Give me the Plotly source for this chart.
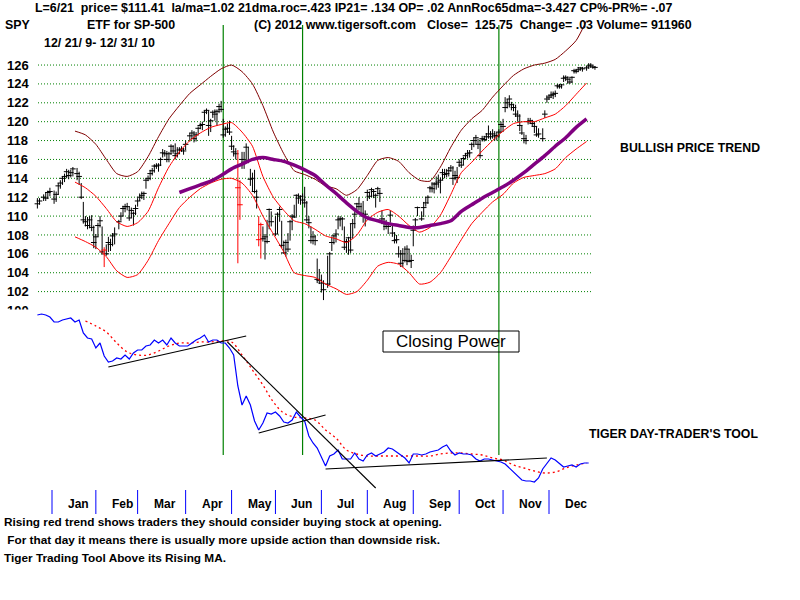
import numpy as np
import pandas as pd
import plotly.graph_objects as go

W, H = 800, 600
FONT = "Liberation Sans, Arial, sans-serif"
GREEN = "#008000"
MAROON = "#800000"
RED = "#ff0000"
PURPLE = "#800080"
BLUE = "#0000ff"
ORIGIN = np.datetime64("2009-12-21")   # x = weekday count from first chart day

# ---- daily SPY bars, 12/23/09 .. 12/31/10 (one line per month) ----
HOLIDAYS = ["2009-12-25", "2010-01-01", "2010-01-18", "2010-02-15", "2010-04-02",
            "2010-05-31", "2010-07-05", "2010-09-06", "2010-11-25", "2010-12-24"]
CLOSE = [
    111.3, 111.6, 112.0, 111.9, 112.5, 112.6,
    111.8, 112.3, 113.2, 113.5, 114.0, 114.2, 114.7, 114.3, 114.6, 115.0, 114.5, 114.2, 112.0, 109.6, 109.4, 109.0, 109.6, 108.8, 107.2,
    107.8, 109.0, 109.5, 106.2, 106.4, 106.0, 107.2, 107.0, 107.9, 108.1, 109.4, 110.0, 110.8, 111.0, 111.0, 109.8, 110.6, 110.3, 110.8,
    111.6, 112.0, 112.2, 112.4, 113.8, 114.0, 114.5, 114.8, 115.3, 115.3, 115.4, 116.0, 116.7, 116.6, 116.0, 116.6, 117.4, 116.9, 116.4, 116.6, 117.0, 117.1, 116.9,
    117.6, 118.5, 118.8, 118.2, 118.6, 119.3, 119.6, 119.7, 121.0, 121.2, 119.6, 120.1, 121.0, 120.8, 121.1, 121.6, 121.3, 118.6, 119.2, 119.3, 118.9,
    117.4, 116.8, 116.6, 113.0, 111.2, 116.0, 115.7, 117.3, 115.9, 113.9, 114.0, 112.6, 112.0, 107.5, 109.1, 107.6, 107.8, 107.3, 110.7, 109.4,
    108.1, 110.2, 110.7, 106.9, 106.1, 107.2, 106.5, 109.4, 110.0, 109.9, 112.2, 111.9, 112.1, 111.7, 111.4, 109.6, 109.3, 107.4, 107.8, 107.4, 103.3, 103.2,
    102.9, 102.2, 102.8, 106.0, 107.2, 107.9, 108.1, 109.6, 109.7, 109.7, 106.7, 107.3, 107.7, 106.4, 109.2, 110.2, 111.3, 111.0, 110.3, 110.0, 110.2,
    112.5, 112.1, 112.8, 112.6, 112.2, 112.9, 112.4, 109.7, 109.2, 108.9, 108.9, 110.1, 108.2, 107.4, 107.5, 106.0, 105.0, 106.0, 105.3, 106.5, 105.2, 105.3,
    108.5, 109.6, 110.9, 109.7, 110.9, 111.4, 112.0, 113.0, 112.9, 113.4, 113.4, 113.6, 113.8, 114.6, 114.4, 114.5, 114.8, 115.1, 114.0, 114.3, 114.1,
    115.7, 115.4, 116.1, 116.4, 116.6, 116.7, 117.6, 118.0, 118.3, 117.6, 116.4, 118.2, 118.1, 118.4, 118.7, 118.4, 118.7, 118.5, 118.5, 118.9, 119.7,
    119.5, 121.5, 122.0, 122.4, 121.8, 121.5, 120.8, 120.6, 119.6, 118.8, 118.2, 118.0, 120.0, 120.1, 119.8, 119.5, 118.6, 118.7, 118.2, 120.8, 122.4,
    122.6, 122.8, 122.9, 123.0, 123.8, 123.7, 123.9, 124.6, 124.7, 124.5, 124.2, 124.7, 125.4, 125.3, 125.5, 125.7, 125.6, 125.7, 125.9, 126.0, 125.8, 125.75,
]
HIGH = [
    111.9, 111.9, 112.3, 112.5, 112.7, 113.0,
    112.7, 112.6, 113.5, 113.8, 114.2, 114.5, 115.0, 114.9, 114.9, 115.2, 115.1, 114.7, 113.5, 111.5, 110.0, 109.9, 110.0, 110.1, 109.0,
    108.1, 109.3, 110.0, 108.9, 106.7, 107.0, 107.8, 107.6, 108.2, 108.8, 109.6, 110.4, 111.1, 111.3, 111.4, 111.0, 110.9, 110.5, 111.2,
    111.9, 112.4, 112.6, 112.6, 114.0, 114.3, 114.9, 115.1, 115.5, 115.6, 115.6, 116.2, 117.1, 117.0, 116.9, 116.8, 117.6, 117.5, 117.7, 117.3, 117.3, 117.4, 117.2,
    118.0, 118.8, 119.1, 119.0, 118.9, 119.5, 119.9, 120.0, 121.2, 121.4, 121.2, 120.3, 121.2, 121.3, 121.3, 121.9, 122.2, 120.3, 119.5, 119.8, 120.1,
    118.5, 117.5, 117.2, 117.0, 113.8, 116.8, 116.8, 117.7, 117.3, 115.0, 114.6, 114.9, 112.8, 110.0, 109.3, 108.9, 108.1, 109.6, 110.8, 110.5,
    110.0, 110.4, 111.0, 109.5, 107.4, 107.5, 108.2, 109.6, 110.2, 111.2, 112.3, 112.4, 112.2, 112.4, 113.1, 111.6, 110.0, 108.9, 108.4, 108.0, 105.5, 104.4,
    103.8, 103.2, 105.8, 106.2, 107.8, 108.0, 108.6, 110.0, 110.0, 109.9, 108.9, 107.6, 107.8, 109.2, 109.7, 110.5, 111.4, 112.0, 111.4, 111.6, 110.6,
    112.8, 112.6, 113.0, 112.8, 112.4, 113.1, 112.8, 110.6, 109.8, 109.6, 109.3, 110.6, 109.0, 108.3, 108.0, 106.8, 106.4, 106.6, 106.8, 106.9, 106.5, 105.9,
    109.0, 109.8, 111.0, 110.5, 111.5, 112.0, 112.2, 113.2, 113.6, 113.6, 114.2, 114.4, 114.1, 115.0, 115.0, 115.0, 115.2, 115.4, 115.3, 114.8, 115.2,
    116.0, 116.1, 116.3, 116.7, 117.0, 117.0, 117.8, 118.3, 118.6, 118.2, 118.1, 118.5, 118.5, 118.8, 119.6, 119.0, 119.2, 119.0, 118.9, 119.2, 120.0,
    120.3, 122.6, 122.4, 122.8, 122.1, 121.9, 121.8, 121.2, 120.8, 119.6, 118.7, 118.6, 120.4, 120.4, 120.2, 120.0, 119.5, 119.3, 119.3, 121.2, 122.8,
    122.9, 123.2, 123.2, 123.3, 124.0, 124.0, 124.0, 124.9, 124.9, 124.8, 124.6, 124.8, 125.6, 125.6, 125.8, 125.8, 125.8, 125.9, 126.2, 126.2, 126.0, 125.9,
]
LOW = [
    110.8, 111.2, 111.6, 111.6, 111.8, 112.1,
    111.3, 111.5, 112.3, 112.9, 113.3, 113.6, 114.0, 113.9, 114.1, 114.2, 113.8, 113.3, 111.8, 109.2, 108.9, 108.6, 108.7, 108.4, 106.6,
    106.5, 107.8, 108.8, 105.9, 104.6, 105.8, 106.2, 106.3, 106.8, 107.0, 108.6, 109.5, 110.0, 110.4, 110.6, 109.5, 109.8, 109.0, 110.1,
    111.0, 111.6, 111.8, 111.7, 112.9, 113.7, 113.8, 114.3, 114.6, 115.0, 114.7, 115.3, 116.2, 116.3, 115.7, 115.7, 116.5, 116.6, 116.0, 116.2, 116.6, 116.8, 116.5,
    117.0, 117.9, 118.2, 117.8, 117.9, 118.7, 119.2, 119.1, 120.0, 120.8, 118.5, 118.9, 120.4, 120.1, 119.6, 120.9, 121.0, 118.3, 118.4, 118.8, 118.6,
    117.0, 116.3, 116.0, 105.0, 109.6, 115.0, 115.0, 115.6, 115.6, 113.2, 112.6, 112.4, 110.8, 106.8, 105.5, 107.3, 105.4, 107.1, 108.6, 108.9,
    107.9, 108.1, 109.4, 106.6, 106.0, 105.7, 106.2, 107.4, 108.5, 109.8, 110.0, 111.3, 111.2, 111.3, 110.9, 109.4, 108.7, 107.1, 107.0, 106.9, 102.9, 102.8,
    101.9, 101.1, 102.4, 102.7, 106.3, 107.0, 107.2, 108.6, 108.9, 108.5, 106.4, 106.1, 105.9, 106.1, 107.6, 108.7, 110.3, 110.6, 110.0, 109.3, 108.9,
    111.6, 111.8, 112.0, 111.9, 110.9, 112.3, 111.5, 109.3, 108.5, 108.6, 108.1, 109.3, 107.8, 107.1, 107.1, 105.6, 104.6, 104.6, 105.1, 104.8, 105.1, 104.5,
    106.8, 108.6, 110.0, 109.5, 109.9, 111.0, 111.3, 112.5, 112.5, 112.4, 112.8, 113.0, 112.4, 113.8, 114.0, 114.1, 114.2, 114.7, 113.3, 113.8, 113.5,
    115.2, 115.1, 115.4, 116.0, 116.1, 116.2, 117.0, 117.3, 117.6, 117.1, 116.1, 117.9, 117.9, 118.0, 118.2, 118.1, 118.2, 118.0, 118.0, 118.3, 118.8,
    118.9, 121.0, 121.4, 121.5, 121.2, 121.1, 120.5, 120.0, 119.0, 118.6, 117.7, 117.6, 119.7, 119.8, 119.5, 118.8, 118.4, 118.3, 117.9, 120.4, 122.0,
    122.3, 122.5, 122.4, 122.6, 123.5, 123.5, 123.5, 124.2, 124.3, 124.0, 124.0, 124.1, 125.1, 125.1, 125.3, 125.4, 125.3, 125.4, 125.6, 125.7, 125.6, 125.5,
]
RED_DAYS = ["2010-02-05", "2010-05-06", "2010-05-07", "2010-05-20", "2010-05-21"]

# ---- weekly band readings (Mondays 1/18/10 .. 12/27/10) ----
BAND_UPPER = [119.0, 118.6, 117.6, 116.0, 114.5, 114.2, 114.7, 116.3, 118.4, 120.3,
              121.7, 123.0, 123.9, 124.8, 125.6, 126.0, 125.3, 124.0, 121.7, 118.9,
              116.6, 114.8, 114.4, 113.9, 113.2, 112.9, 112.2, 112.8, 114.3, 115.9,
              116.2, 115.8, 114.6, 113.8, 113.7, 115.2, 117.3, 119.1, 120.3, 121.2,
              122.6, 123.8, 124.9, 125.6, 126.0, 126.2, 126.6, 127.5, 128.6, 130.7]
BAND_MID = [113.6, 113.0, 112.1, 110.8, 109.4, 108.9, 109.3, 110.5, 113.0, 115.2,
            116.8, 118.0, 118.8, 119.4, 119.7, 119.9, 118.9, 117.4, 114.2, 112.0,
            110.6, 109.5, 109.2, 108.6, 107.9, 107.6, 107.2, 108.0, 109.6, 110.4,
            110.7, 110.0, 109.0, 108.3, 108.8, 110.1, 112.3, 114.6, 115.7, 116.9,
            118.0, 119.0, 119.8, 120.0, 120.0, 120.4, 120.8, 121.7, 122.9, 124.1]
BAND_LOWER = [107.8, 107.3, 106.7, 105.7, 104.2, 103.5, 103.8, 105.3, 107.4, 109.2,
              110.9, 112.0, 112.9, 113.5, 113.9, 114.0, 113.5, 112.2, 110.0, 108.1,
              106.2, 104.0, 103.7, 103.5, 102.8, 102.3, 101.7, 102.0, 103.2, 104.7,
              105.1, 104.9, 104.0, 102.8, 103.0, 104.0, 105.7, 107.5, 109.2, 110.4,
              111.5, 112.3, 113.5, 114.1, 114.3, 114.5, 115.0, 116.2, 117.1, 117.9]
MA65_START = "2010-03-29"
MA65 = [112.5, 112.9, 113.3, 113.7, 114.3, 115.0, 115.5, 116.0, 116.2, 116.0,
        115.8, 115.4, 114.9, 114.3, 113.3, 112.4, 111.4, 110.5, 109.8, 109.5,
        109.2, 109.0, 108.8, 108.8, 109.0, 109.2, 109.5, 110.5, 111.2, 111.9,
        112.5, 113.1, 113.8, 114.6, 115.5, 116.4, 117.4, 118.3, 119.4, 120.3]

# ---- Closing Power (every 2nd weekday from 12/23/09), arbitrary units ----
CP = [175, 176, 175, 173, 168, 168, 170, 171, 172, 168,
      170, 157, 152, 151, 142, 147, 134, 128, 129, 132,
      131, 135, 131, 137, 140, 140, 144, 145, 150, 147,
      150, 145, 152, 147, 144, 144, 144, 147, 150, 152,
      155, 148, 150, 150, 147, 147, 142, 135, 104, 85,
      94, 85, 69, 60, 67, 77, 76, 78, 74, 68,
      67, 70, 78, 73, 69, 54, 47, 42, 33, 24,
      34, 36, 40, 31, 31, 31, 37, 31, 29, 35,
      37, 34, 36, 38, 42, 41, 38, 35, 32, 27,
      36, 36, 35, 36, 38, 39, 40, 43, 45, 39,
      35, 37, 36, 36, 35, 31, 29, 31, 31, 30,
      29, 28, 26, 22, 18, 15, 10, 9, 9, 8,
      12, 21, 26, 32, 30, 26, 23, 24, 25, 23,
      26, 27, 27]
CP_MA_START = "2010-01-25"
CP_MA = [169, 164, 158, 147, 138, 135, 135, 139, 144, 147,
         147, 148, 148, 149, 148, 135, 120, 105, 88, 77,
         73, 72, 70, 60, 52, 40, 36, 34, 34, 34,
         34, 34, 34, 34, 36, 37, 37, 36, 35, 32,
         30, 25, 22, 19, 17, 18, 22, 25, 27]
TREND_LINES = [("2010-02-09", 123, "2010-05-12", 154),
               ("2010-04-29", 148, "2010-08-06", 2),
               ("2010-05-20", 57, "2010-07-05", 75),
               ("2010-07-05", 21, "2010-11-30", 32)]

SIGNAL_DAYS = ["2010-04-27", "2010-06-18", "2010-10-28"]
PRICE_TICKS = list(range(100, 127, 2))
MONTH_STARTS = pd.date_range("2010-01-01", "2010-12-01", freq="MS")
MONTH_LABELS = ["Jan", "Feb", "Mar", "Apr", "May", "Jun",
                "Jul", "Aug", "Sep", "Oct", "Nov", "Dec"]

TOP_LINE = ("L=6/21\u00a0\u00a0price= $111.41\u00a0\u00a0la/ma=1.02 21dma.roc=.423 IP21= .134 "
            "OP= .02 AnnRoc65dma=-3.427 CP%-PR%= -.07")
NOTES = ["Rising red trend shows traders they should consider buying stock at opening.",
         "\u00a0For that day it means there is usually more upside action than downside risk.",
         "Tiger Trading Tool Above its Rising MA."]


def wd(dates):
    d = pd.to_datetime(pd.Index(dates)).values.astype("datetime64[D]")
    return np.busday_count(ORIGIN, d)


days = pd.bdate_range("2009-12-23", "2010-12-31")
days = days[~days.isin(pd.to_datetime(HOLIDAYS))]
assert len(days) == len(CLOSE) == len(HIGH) == len(LOW), (len(days), len(CLOSE), len(HIGH), len(LOW))
xd = wd(days)
red = set(wd(RED_DAYS).tolist())

band_dates = pd.date_range("2010-01-18", "2010-12-27", freq="W-MON")
xb = wd(band_dates)
xma = wd(band_dates[band_dates >= MA65_START])
xcpma = wd(band_dates[band_dates >= CP_MA_START])
xcp = wd(pd.bdate_range("2009-12-23", "2010-12-29", freq="2B"))

fig = go.Figure()

# OHLC-style bars: high-low stems + close ticks
for colour, want_red in [("black", False), ("red", True)]:
    bx, by, cx, cy = [], [], [], []
    for x, h, l, c in zip(xd, HIGH, LOW, CLOSE):
        if (int(x) in red) != want_red:
            continue
        bx += [x, x, None]
        by += [l, h, None]
        cx.append(x)
        cy.append(c)
    fig.add_trace(go.Scatter(x=bx, y=by, mode="lines", line=dict(color=colour, width=1),
                             hoverinfo="skip"))
    fig.add_trace(go.Scatter(x=cx, y=cy, mode="markers",
                             marker=dict(symbol="line-ew", size=4,
                                         line=dict(color=colour, width=1)),
                             hoverinfo="skip"))

for vals, col in [(BAND_UPPER, MAROON), (BAND_MID, RED), (BAND_LOWER, RED)]:
    fig.add_trace(go.Scatter(x=xb, y=vals, mode="lines",
                             line=dict(color=col, width=1, shape="spline", smoothing=0.6)))
fig.add_trace(go.Scatter(x=xma, y=MA65, mode="lines",
                         line=dict(color=PURPLE, width=3.5, shape="spline", smoothing=0.6)))

# Closing Power panel
fig.add_trace(go.Scatter(x=xcpma, y=CP_MA, yaxis="y2", mode="lines",
                         line=dict(color=RED, width=1.3, dash="2px,3px", shape="spline")))
fig.add_trace(go.Scatter(x=xcp, y=CP, yaxis="y2", mode="lines",
                         line=dict(color=BLUE, width=1.2)))
for d0, v0, d1, v1 in TREND_LINES:
    fig.add_trace(go.Scatter(x=wd([d0, d1]), y=[v0, v1], yaxis="y2", mode="lines",
                             line=dict(color="black", width=1.1)))

shapes = []
for v in PRICE_TICKS:
    if v < 102:
        continue
    shapes.append(dict(type="line", xref="paper", yref="y", x0=38 / W, x1=592 / W,
                       y0=v, y1=v, layer="below",
                       line=dict(color=GREEN, width=1, dash="1px,2px")))
for x in wd(SIGNAL_DAYS):
    shapes.append(dict(type="line", xref="x", yref="paper", x0=x, x1=x,
                       y0=1 - 455 / H, y1=1 - 25 / H, layer="below",
                       line=dict(color=GREEN, width=1.2)))
month_x = wd(MONTH_STARTS)
for x in month_x:
    shapes.append(dict(type="line", xref="x", yref="paper", x0=x, x1=x,
                       y0=1 - 514 / H, y1=1 - 490 / H, line=dict(color=BLUE, width=1)))
# Closing Power caption box
shapes.append(dict(type="rect", xref="paper", yref="paper", x0=383 / W, x1=519 / W,
                   y0=1 - 352 / H, y1=1 - 331 / H, line=dict(color="black", width=1)))
# the "100" price label is cut off by the lower panel
shapes.append(dict(type="rect", xref="paper", yref="paper", x0=0, x1=36 / W,
                   y0=1 - 330 / H, y1=1 - 309.5 / H, layer="above",
                   fillcolor="white", line=dict(width=0)))


def txt(x, y, s, size=12.4, bold=True, anchor="left"):
    return dict(xref="paper", yref="paper", x=x / W, y=1 - y / H, text=s,
                showarrow=False, xanchor=anchor, yanchor="middle",
                font=dict(family=FONT, size=size, color="black",
                          weight="bold" if bold else "normal"))


annotations = [
    txt(33, 8, TOP_LINE),
    txt(3, 25, "SPY"),
    txt(85, 25, "ETF for SP-500"),
    txt(252, 25, "(C) 2012 www.tigersoft.com"),
    txt(425, 25, "Close=\u00a0\u00a0125.75\u00a0\u00a0Change= .03 Volume= 911960"),
    txt(42, 43, "12/ 21/ 9- 12/ 31/ 10"),
    txt(618, 148, "BULLISH PRICE TREND", size=12.3),
    txt(587, 434, "TIGER DAY-TRADER'S TOOL", size=12.3),
    txt(451, 341, "Closing Power", size=17, bold=False, anchor="center"),
]
for i, line in enumerate(NOTES):
    annotations.append(txt(2, 522 + 18 * i, line, size=11.8))
for x, lab in zip(month_x, MONTH_LABELS):
    annotations.append(dict(xref="x", yref="paper", x=x, y=1 - 504 / H, text=lab,
                            showarrow=False, xanchor="left", yanchor="middle", xshift=14,
                            font=dict(family=FONT, size=12, color="black", weight="bold")))

# x: weekday index; axis ranges chosen so the full 800x600 canvas is the plot area
fig.update_layout(
    width=W, height=H, margin=dict(l=0, r=0, t=0, b=0, pad=0),
    paper_bgcolor="white", plot_bgcolor="white", showlegend=False,
    xaxis=dict(range=[-15.9, 367.2], visible=False, fixedrange=True),
    yaxis=dict(range=[69.33, 132.89], showgrid=False, zeroline=False, showline=False,
               tickvals=PRICE_TICKS, ticks="", ticklabelposition="inside",
               ticklabelstandoff=4,
               tickfont=dict(family=FONT, size=13, color="black", weight="bold")),
    yaxis2=dict(range=[-110, 490], overlaying="y", visible=False),
    shapes=shapes, annotations=annotations,
)

fig.write_html("out.html", config={"displayModeBar": False},
               post_script="document.body.style.margin='0';")
